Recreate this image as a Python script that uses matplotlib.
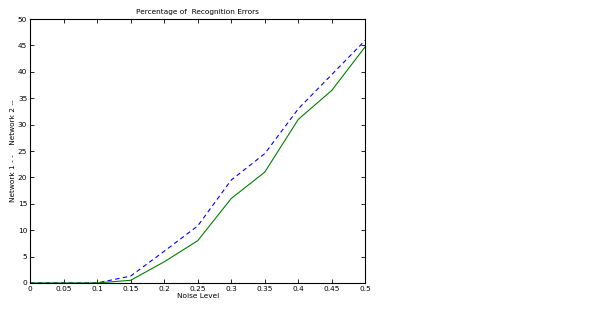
import matplotlib
matplotlib.use('Agg')
import matplotlib.pyplot as plt

# noise levels and error percentages for both networks
ruido = [0, 0.05, 0.1, 0.15, 0.2, 0.25, 0.3, 0.35, 0.4, 0.45, 0.5]
red1 = [0, 0, 0, 1.3, 6.0, 10.8, 19.5, 24.5, 33.0, 39.5, 46.0]
red2 = [0, 0, 0, 0.5, 4.0, 8.0, 16.0, 21.0, 31.0, 36.5, 44.8]
ticksX = [0, 0.05, 0.1, 0.15, 0.2, 0.25, 0.3, 0.35, 0.4, 0.45, 0.5]
ticksY = [0, 5, 10, 15, 20, 25, 30, 35, 40, 45, 50]

fig = plt.figure(figsize=(6, 3.23), dpi=100)
ax = fig.add_axes([0.05, 0.124, 0.559, 0.817])

ax.plot(ruido, red1, '--', color='#0000ff', linewidth=0.8, dashes=(4, 3))
ax.plot(ruido, red2, '-', color='#008000', linewidth=0.8)

ax.set_xlim(0, 0.5)
ax.set_ylim(0, 50)
ax.set_xticks(ticksX)
ax.set_xticklabels(['0', '0.05', '0.1', '0.15', '0.2', '0.25', '0.3', '0.35', '0.4', '0.45', '0.5'])
ax.set_yticks(ticksY)
ax.tick_params(direction='in', top=True, right=True, labelsize=5.3, length=3, width=0.6, pad=2)
for s in ax.spines.values():
    s.set_linewidth(0.8)

ax.set_title('Percentage of  Recognition Errors', fontsize=5.3, pad=4)
ax.set_xlabel('Noise Level', fontsize=5.3, labelpad=1)
ax.set_ylabel('Network 1 - -    Network 2 --', fontsize=5.3, labelpad=1)

fig.savefig('out.png', dpi=100)
